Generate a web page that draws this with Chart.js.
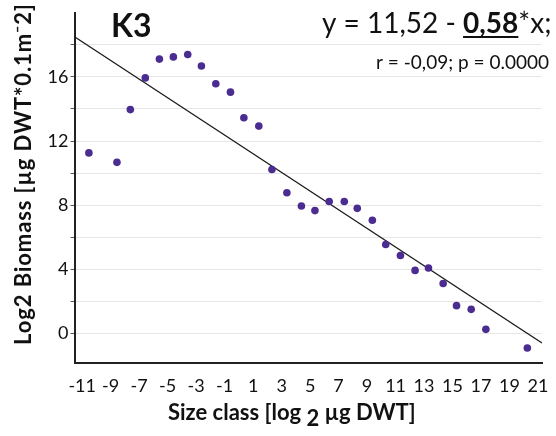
<!DOCTYPE html>
<html>
<head>
<meta charset="utf-8">
<script src="https://cdn.jsdelivr.net/npm/chart.js@4"></script>
<style>
html,body{margin:0;padding:0;background:#fff;}
#c{display:block;}
</style>
</head>
<body>
<canvas id="c" width="556" height="436"></canvas>
<script>
// ---- data ----
const sizeClass = [-10.53, -8.56, -7.62, -6.57, -5.58, -4.60, -3.59, -2.63, -1.62, -0.59,
                   0.35, 1.40, 2.32, 3.37, 4.39, 5.34, 6.34, 7.40, 8.31, 9.37,
                   10.31, 11.34, 12.37, 13.31, 14.34, 15.28, 16.31, 17.34, 20.25];
const log2Biomass = [11.26, 10.67, 13.96, 15.94, 17.11, 17.25, 17.40, 16.68, 15.57, 15.05,
                     13.45, 12.93, 10.22, 8.77, 7.95, 7.66, 8.23, 8.23, 7.80, 7.06,
                     5.54, 4.86, 3.93, 4.08, 3.11, 1.73, 1.50, 0.25, -0.91];
const fitX = [-11.54, 21.28];
const fitY = [18.51, -0.60];
const xTickLabels = [-11, -9, -7, -5, -3, -1, 1, 3, 5, 7, 9, 11, 13, 15, 17, 19, 21];
const yGridValues = [0, 2, 4, 6, 8, 10, 12, 14, 16, 18];
const yTickLabels = [0, 4, 8, 12, 16];
const panelLabel = 'K3';
const eqStart = 'y = 11,52 - ';
const eqSlope = '0,58';
const eqEnd = '*x;';
const statsText = 'r = -0,09; p = 0.0000';
const yTitle = 'Log2 Biomass [µg DWT*0.1m⁻2]';
const xTitleParts = ['Size class [log ', '2', ' µg DWT]'];

const FONT = 'Lato, "Open Sans", sans-serif';

const textPlugin = {
  id: 'texts',
  afterDraw(chart) {
    const ctx = chart.ctx;
    ctx.save();
    ctx.fillStyle = '#111';
    // panel label
    ctx.font = 'bold 32px ' + FONT;
    ctx.textAlign = 'left';
    ctx.textBaseline = 'alphabetic';
    ctx.fillText(panelLabel, 111, 37);
    // equation
    ctx.font = '28px ' + FONT;
    let x = 322;
    const by = 33;
    ctx.fillText(eqStart, x, by);
    x += ctx.measureText(eqStart).width;
    ctx.font = 'bold 28px ' + FONT;
    ctx.fillText(eqSlope, x, by);
    const w = ctx.measureText(eqSlope).width;
    ctx.fillRect(x, by + 3, w, 2);
    x += w;
    ctx.font = '28px ' + FONT;
    ctx.fillText(eqEnd, x, by);
    // stats
    ctx.font = '19px ' + FONT;
    ctx.textAlign = 'right';
    ctx.fillText(statsText, 549, 69);
    // y title
    ctx.save();
    ctx.translate(31, 345);
    ctx.rotate(-Math.PI / 2);
    ctx.textAlign = 'left';
    ctx.textBaseline = 'alphabetic';
    ctx.font = 'bold 22px ' + FONT;
    ctx.letterSpacing = '0.9px';
    ctx.fillText(yTitle, 0, 0);
    ctx.restore();
    // x title
    ctx.textAlign = 'left';
    ctx.font = 'bold 22px ' + FONT;
    let tx = 168;
    const ty = 420;
    ctx.fillText(xTitleParts[0], tx, ty);
    tx += ctx.measureText(xTitleParts[0]).width;
    ctx.fillText(xTitleParts[1], tx, ty + 6);
    tx += ctx.measureText(xTitleParts[1]).width;
    ctx.fillText(xTitleParts[2], tx, ty);
    ctx.restore();
  }
};

new Chart(document.getElementById('c'), {
  type: 'scatter',
  data: {
    datasets: [
      {
        type: 'line',
        data: fitX.map((v, i) => ({x: v, y: fitY[i]})),
        borderColor: '#1a1a1a',
        borderWidth: 1.3,
        pointRadius: 0,
        fill: false,
        order: 2
      },
      {
        data: sizeClass.map((v, i) => ({x: v, y: log2Biomass[i]})),
        backgroundColor: '#4b2c91',
        borderWidth: 0,
        pointRadius: 3.8,
        order: 1
      }
    ]
  },
  plugins: [textPlugin],
  options: {
    responsive: false,
    animation: false,
    devicePixelRatio: 1,
    layout: {padding: {left: 0, right: 14, top: 10, bottom: 0}},
    plugins: {legend: {display: false}, tooltip: {enabled: false}},
    scales: {
      x: {
        type: 'linear',
        min: -11.54,
        max: 21.28,
        afterBuildTicks: s => { s.ticks = xTickLabels.map(v => ({value: v})); },
        afterFit: s => { s.height = 73.3; },
        grid: {display: false},
        border: {display: true, color: '#222', width: 2},
        ticks: {
          font: {family: FONT, size: 18},
          color: '#111',
          padding: 5,
          maxRotation: 0,
          autoSkip: false
        }
      },
      y: {
        type: 'linear',
        min: -1.83,
        max: 20,
        afterBuildTicks: s => { s.ticks = yGridValues.map(v => ({value: v})); },
        afterFit: s => { s.width = 74.5; },
        grid: {color: '#e6e6e6', lineWidth: 1, drawTicks: true, tickLength: 4, tickColor: '#555'},
        border: {display: true, color: '#222', width: 2},
        ticks: {
          font: {family: FONT, size: 18},
          color: '#111',
          padding: 2,
          autoSkip: false,
          callback: v => yTickLabels.includes(v) ? String(v) : ''
        }
      }
    }
  }
});
</script>
</body>
</html>
